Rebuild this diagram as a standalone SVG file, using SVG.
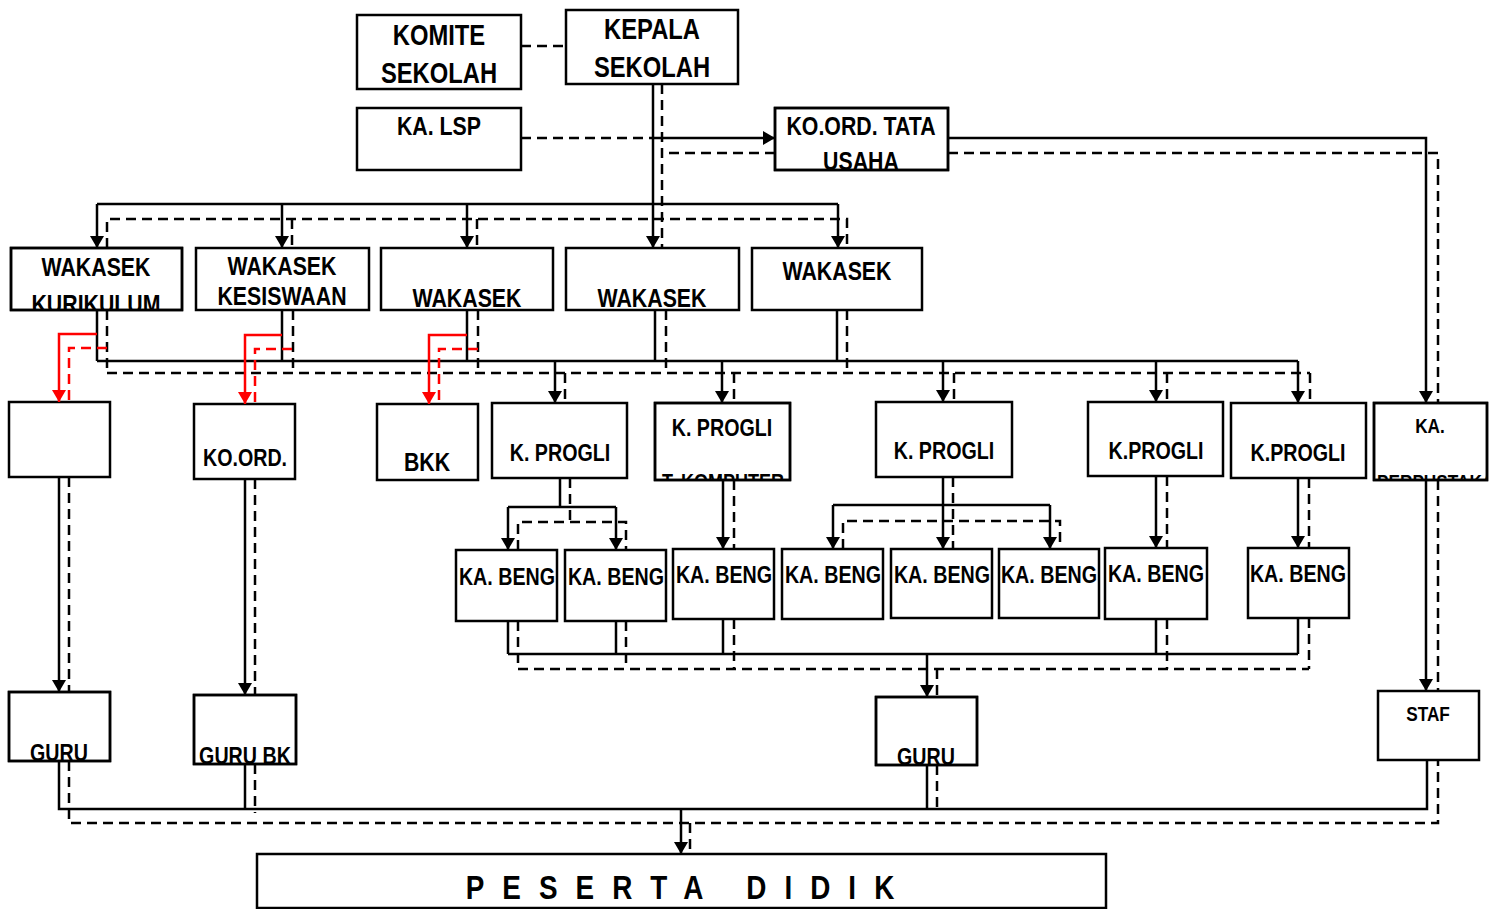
<svg xmlns="http://www.w3.org/2000/svg" width="1498" height="909" viewBox="0 0 1498 909">
<style>
.box{fill:#fff;stroke:#000;stroke-width:2.5}
.bd{fill:none;stroke:#000;stroke-width:2.5}
.t{font-family:"Liberation Sans",Arial,sans-serif;font-weight:bold;text-anchor:middle;fill:#000}
.ts{font-family:"Liberation Sans",Arial,sans-serif;font-weight:bold;text-anchor:start;fill:#000}
.s{fill:none;stroke:#000;stroke-width:2.5}
.d{fill:none;stroke:#000;stroke-width:2.5;stroke-dasharray:10 6}
.rs{fill:none;stroke:#f00;stroke-width:2.5}
.rd{fill:none;stroke:#f00;stroke-width:2.5;stroke-dasharray:10 6}
.a{marker-end:url(#ar)}
.ra{marker-end:url(#arr)}
</style>
<defs>
<marker id="ar" markerUnits="userSpaceOnUse" markerWidth="12" markerHeight="14" viewBox="0 0 12 14" refX="12" refY="7" orient="auto"><path d="M0,0 L12,7 L0,14 z" fill="#000"/></marker>
<marker id="arr" markerUnits="userSpaceOnUse" markerWidth="12" markerHeight="14" viewBox="0 0 12 14" refX="12" refY="7" orient="auto"><path d="M0,0 L12,7 L0,14 z" fill="#f00"/></marker>
<clipPath id="c-tu"><rect x="775" y="108" width="173" height="62"/></clipPath>
<clipPath id="c-w1"><rect x="11" y="248" width="171" height="62"/></clipPath>
<clipPath id="c-p2"><rect x="655" y="403" width="135" height="77"/></clipPath>
<clipPath id="c-pp"><rect x="1374" y="403" width="113" height="77"/></clipPath>
</defs>

<g id="komite"><rect class="box" x="357" y="15" width="164" height="74"/><text class="t" transform="matrix(.82 0 0 1 439 0)" y="45" font-size="29">KOMITE</text><text class="t" transform="matrix(.82 0 0 1 439 0)" y="83" font-size="29">SEKOLAH</text></g>
<g id="kepala"><rect class="box" x="566" y="10" width="172" height="74"/><text class="t" transform="matrix(.82 0 0 1 652 0)" y="39" font-size="29">KEPALA</text><text class="t" transform="matrix(.82 0 0 1 652 0)" y="77" font-size="29">SEKOLAH</text></g>
<g id="kalsp"><rect class="box" x="357" y="108" width="164" height="62"/><text class="t" transform="matrix(.82 0 0 1 439 0)" y="135" font-size="26">KA. LSP</text></g>
<g id="tatausaha"><rect class="box" x="775" y="108" width="173" height="62"/><g clip-path="url(#c-tu)"><text class="t" transform="matrix(.82 0 0 1 861 0)" y="135" font-size="26">KO.ORD. TATA</text><text class="t" transform="matrix(.82 0 0 1 861 0)" y="170" font-size="26">USAHA</text></g><rect class="bd" x="775" y="108" width="173" height="62"/></g>

<g id="w1"><rect class="box" x="11" y="248" width="171" height="62"/><text class="t" transform="matrix(.82 0 0 1 96 0)" y="276" font-size="26">WAKASEK</text><g clip-path="url(#c-w1)"><text class="t" transform="matrix(.82 0 0 1 96 0)" y="313" font-size="26">KURIKULUM</text></g><rect class="bd" x="11" y="248" width="171" height="62"/></g>
<g id="w2"><rect class="box" x="196" y="248" width="173" height="62"/><text class="t" transform="matrix(.82 0 0 1 282 0)" y="275" font-size="26">WAKASEK</text><text class="t" transform="matrix(.82 0 0 1 282 0)" y="305" font-size="26">KESISWAAN</text></g>
<g id="w3"><rect class="box" x="381" y="248" width="172" height="62"/><text class="t" transform="matrix(.82 0 0 1 467 0)" y="307" font-size="26">WAKASEK</text></g>
<g id="w4"><rect class="box" x="566" y="248" width="173" height="62"/><text class="t" transform="matrix(.82 0 0 1 652 0)" y="307" font-size="26">WAKASEK</text></g>
<g id="w5"><rect class="box" x="752" y="248" width="170" height="62"/><text class="t" transform="matrix(.82 0 0 1 837 0)" y="280" font-size="26">WAKASEK</text></g>

<g id="b1"><rect class="box" x="9" y="402" width="101" height="75"/></g>
<g id="koord"><rect class="box" x="194" y="404" width="101" height="75"/><text class="t" transform="matrix(.82 0 0 1 245 0)" y="466" font-size="24">KO.ORD.</text></g>
<g id="bkk"><rect class="box" x="377" y="404" width="101" height="76"/><text class="t" transform="matrix(.82 0 0 1 427 0)" y="471" font-size="26">BKK</text></g>
<g id="p1"><rect class="box" x="492" y="403" width="135" height="75"/><text class="t" transform="matrix(.82 0 0 1 560 0)" y="461" font-size="24">K. PROGLI</text></g>
<g id="p2"><rect class="box" x="655" y="403" width="135" height="77"/><text class="t" transform="matrix(.82 0 0 1 722 0)" y="436" font-size="24">K. PROGLI</text><g clip-path="url(#c-p2)"><text class="t" transform="matrix(.82 0 0 1 723 0)" y="489" font-size="22">T. KOMPUTER</text></g><rect class="bd" x="655" y="403" width="135" height="77"/></g>
<g id="p3"><rect class="box" x="876" y="402" width="136" height="75"/><text class="t" transform="matrix(.82 0 0 1 944 0)" y="459" font-size="24">K. PROGLI</text></g>
<g id="p4"><rect class="box" x="1088" y="402" width="135" height="74"/><text class="t" transform="matrix(.82 0 0 1 1156 0)" y="459" font-size="24">K.PROGLI</text></g>
<g id="p5"><rect class="box" x="1231" y="403" width="135" height="75"/><text class="t" transform="matrix(.82 0 0 1 1298 0)" y="461" font-size="24">K.PROGLI</text></g>
<g id="perpus"><rect class="box" x="1374" y="403" width="113" height="77"/><text class="t" transform="matrix(.82 0 0 1 1430 0)" y="433" font-size="21">KA.</text><g clip-path="url(#c-pp)"><text class="ts" transform="matrix(.82 0 0 1 1377 0)" y="489" font-size="21">PERPUSTAKAAN</text></g><rect class="bd" x="1374" y="403" width="113" height="77"/></g>

<g id="kb1"><rect class="box" x="456" y="550" width="101" height="71"/><text class="t" transform="matrix(.82 0 0 1 507 0)" y="585" font-size="24">KA. BENG</text></g>
<g id="kb2"><rect class="box" x="565" y="550" width="101" height="71"/><text class="t" transform="matrix(.82 0 0 1 616 0)" y="585" font-size="24">KA. BENG</text></g>
<g id="kb3"><rect class="box" x="673" y="549" width="101" height="70"/><text class="t" transform="matrix(.82 0 0 1 724 0)" y="583" font-size="24">KA. BENG</text></g>
<g id="kb4"><rect class="box" x="782" y="549" width="101" height="70"/><text class="t" transform="matrix(.82 0 0 1 833 0)" y="583" font-size="24">KA. BENG</text></g>
<g id="kb5"><rect class="box" x="891" y="549" width="101" height="69"/><text class="t" transform="matrix(.82 0 0 1 942 0)" y="583" font-size="24">KA. BENG</text></g>
<g id="kb6"><rect class="box" x="999" y="549" width="100" height="69"/><text class="t" transform="matrix(.82 0 0 1 1049 0)" y="583" font-size="24">KA. BENG</text></g>
<g id="kb7"><rect class="box" x="1105" y="548" width="102" height="71"/><text class="t" transform="matrix(.82 0 0 1 1156 0)" y="582" font-size="24">KA. BENG</text></g>
<g id="kb8"><rect class="box" x="1248" y="548" width="101" height="70"/><text class="t" transform="matrix(.82 0 0 1 1298 0)" y="582" font-size="24">KA. BENG</text></g>

<g id="guru1"><rect class="box" x="9" y="692" width="101" height="69"/><text class="t" transform="matrix(.82 0 0 1 59 0)" y="761" font-size="24">GURU</text><rect class="bd" x="9" y="692" width="101" height="69"/></g>
<g id="gurubk"><rect class="box" x="194" y="695" width="102" height="69"/><text class="t" transform="matrix(.82 0 0 1 245 0)" y="764" font-size="24">GURU BK</text><rect class="bd" x="194" y="695" width="102" height="69"/></g>
<g id="guru2"><rect class="box" x="876" y="697" width="101" height="68"/><text class="t" transform="matrix(.82 0 0 1 926 0)" y="765" font-size="24">GURU</text><rect class="bd" x="876" y="697" width="101" height="68"/></g>
<g id="staf"><rect class="box" x="1378" y="691" width="101" height="69"/><text class="t" transform="matrix(.82 0 0 1 1428 0)" y="721" font-size="21">STAF</text></g>

<g id="peserta"><rect class="box" x="257" y="854" width="849" height="54"/><text class="t" transform="matrix(.82 0 0 1 689 0)" y="899" font-size="34" letter-spacing="22">PESERTA DIDIK</text></g>

<g id="connectors">
<path class="d" d="M521,46 H566"/>
<path class="d" d="M521,138 H653"/>
<path class="s a" d="M653,138 H775"/>
<path class="d" d="M775,153 H662"/>
<path class="s a" d="M653,84 V248"/>
<path class="d" d="M662,84 V248"/>
<path class="s" d="M97,204 H838"/>
<path class="s a" d="M97,204 V248"/>
<path class="s a" d="M282,204 V248"/>
<path class="s a" d="M467,204 V248"/>
<path class="s a" d="M838,204 V248"/>
<path class="d" d="M107,248 V219 H847 V248"/>
<path class="d" d="M292,219 V248"/>
<path class="d" d="M477,219 V248"/>
<path class="s a" d="M948,138 H1426 V403"/>
<path class="d" d="M948,153 H1438 V403"/>

<path class="s" d="M97,310 V361 M282,310 V361 M467,310 V361 M655,310 V361 M837,310 V361 M97,361 H1298"/>
<path class="d" d="M107,310 V373 M293,310 V373 M478,310 V373 M666,310 V373 M847,310 V373 M107,373 H1310"/>
<path class="s a" d="M555,361 V403"/>
<path class="s a" d="M722,361 V403"/>
<path class="s a" d="M943,361 V402"/>
<path class="s a" d="M1156,361 V402"/>
<path class="s a" d="M1298,361 V403"/>
<path class="d" d="M565,373 V403 M734,373 V403 M954,373 V402 M1167,373 V402 M1310,373 V403"/>

<path class="rs ra" d="M97,334 H59 V402"/>
<path class="rd" d="M107,348 H69 V402"/>
<path class="rs ra" d="M282,335 H245 V404"/>
<path class="rd" d="M292,349 H255 V404"/>
<path class="rs ra" d="M467,335 H429 V404"/>
<path class="rd" d="M478,349 H439 V404"/>

<path class="s" d="M560,478 V507 M508,507 H616"/>
<path class="s a" d="M508,507 V550"/>
<path class="s a" d="M616,507 V550"/>
<path class="d" d="M570,478 V522 M518,550 V522 H626 V550"/>
<path class="s a" d="M723,480 V549"/>
<path class="d" d="M734,480 V549"/>
<path class="s a" d="M943,477 V549"/>
<path class="s" d="M833,505 H1050"/>
<path class="s a" d="M833,505 V549"/>
<path class="s a" d="M1050,505 V549"/>
<path class="d" d="M953,477 V549 M843,549 V521 H1060 V549"/>
<path class="s a" d="M1156,476 V548"/>
<path class="d" d="M1167,476 V548"/>
<path class="s a" d="M1298,478 V548"/>
<path class="d" d="M1309,478 V548"/>
<path class="s a" d="M1426,480 V691"/>
<path class="d" d="M1438,480 V691"/>
<path class="s a" d="M59,477 V692"/>
<path class="d" d="M69,477 V692"/>
<path class="s a" d="M245,479 V695"/>
<path class="d" d="M255,479 V695"/>

<path class="s" d="M508,621 V654 M616,621 V654 M723,619 V654 M1156,619 V654 M1298,618 V654 M508,654 H1298"/>
<path class="d" d="M518,621 V669 M626,621 V669 M734,619 V669 M1167,619 V669 M1309,618 V669 M518,669 H1309"/>
<path class="s a" d="M927,654 V697"/>
<path class="d" d="M937,669 V697"/>

<path class="s" d="M59,761 V809 H1427 V760 M245,764 V809 M927,765 V809"/>
<path class="d" d="M69,761 V823 H1438 V760 M255,764 V813 M937,765 V813"/>
<path class="s a" d="M681,809 V854"/>
<path class="d" d="M690,823 V854"/>
</g>
</svg>
